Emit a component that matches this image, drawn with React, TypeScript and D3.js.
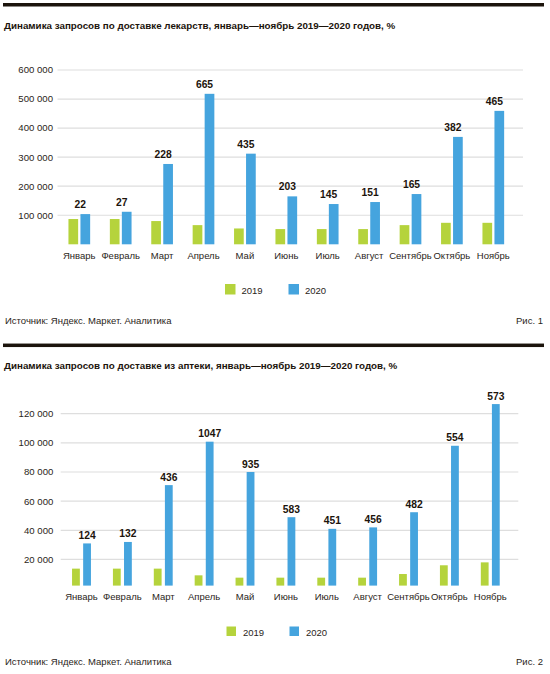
import React from 'react';
import * as d3 from 'd3';

// ---------- DATA ----------
const months = ['Январь', 'Февраль', 'Март', 'Апрель', 'Май', 'Июнь', 'Июль', 'Август', 'Сентябрь', 'Октябрь', 'Ноябрь'];

const medicines2019 = [87000, 87000, 80000, 66000, 54500, 52400, 52400, 52400, 66000, 74000, 74000];
const medicines2020 = [104000, 112000, 276500, 518000, 312000, 165000, 138600, 145500, 173000, 369700, 459300];
const medicinesGrowth = [22, 27, 228, 665, 435, 203, 145, 151, 165, 382, 465];
const medicinesTicks = [100000, 200000, 300000, 400000, 500000, 600000];

const pharmacy2019 = [13700, 13700, 13700, 9100, 7500, 7500, 7500, 7500, 10000, 16000, 18000];
const pharmacy2020 = [31000, 32000, 71000, 100800, 80000, 49000, 41000, 42000, 52400, 98000, 126600];
const pharmacyGrowth = [124, 132, 436, 1047, 935, 583, 451, 456, 482, 554, 573];
const pharmacyTicks = [20000, 40000, 60000, 80000, 100000, 120000];

const seriesNames = ['2019', '2020'];
const titles = [
  'Динамика запросов по доставке лекарств, январь—ноябрь 2019—2020 годов, %',
  'Динамика запросов по доставке из аптеки, январь—ноябрь 2019—2020 годов, %',
];
const sourceText = 'Источник: Яндекс. Маркет. Аналитика';
const figLabels = ['Рис. 1', 'Рис. 2'];

// ---------- STYLE ----------
const GREEN = '#b5d33c';
const BLUE = '#45a4de';
const INK = '#1c140c';
const TEXT = '#2a2520';
const GRID = '#dedede';
const FONT = '"Liberation Sans", Arial, Helvetica, sans-serif';

const fmt = d3.formatLocale({ decimal: ',', thousands: '\u00a0', grouping: [3], currency: ['', ''] }).format(',d');

type ChartProps = {
  title: string;
  fig: string;
  v2019: number[];
  v2020: number[];
  growth: number[];
  ticks: number[];
  yMax: number;
  lineY: number;
  titleY: number;
  yZero: number;
  yTopPx: number;
  gridX0: number;
  gridX1: number;
  tickX: number;
  bandX0: number;
  bandX1: number;
  barW: number;
  barGap: number;
  baseGap: number;
  labelOnBlue: boolean;
  labelDy: number;
  monthY: number;
  legendY: number;
  legendXs: number[];
  legendTextDx: number;
  legendSize: number;
  sourceY: number;
};

function BarChart(p: ChartProps) {
  const x = d3.scaleBand<string>().domain(months).range([p.bandX0, p.bandX1]).paddingInner(0).paddingOuter(0);
  const y = d3.scaleLinear().domain([0, p.yMax]).range([p.yZero, p.yTopPx]);
  const c = (m: string) => (x(m) as number) + x.bandwidth() / 2;
  const base = y(0) - p.baseGap;
  return (
    <g>
      <rect x={3} y={p.lineY - 1.75} width={541} height={3.5} fill={INK} />
      <text x={4} y={p.titleY} fontFamily={FONT} fontWeight="bold" fontSize={9.8} fill={INK}>{p.title}</text>
      {p.ticks.map((t) => (
        <g key={t}>
          <line x1={p.gridX0} x2={p.gridX1} y1={y(t)} y2={y(t)} stroke={GRID} strokeWidth={1.2} />
          <text x={p.tickX} y={y(t)} dy="0.35em" textAnchor="end" fontFamily={FONT} fontSize={9.6} fill={TEXT}>{fmt(t)}</text>
        </g>
      ))}
      {months.map((m, i) => {
        const cx = c(m);
        const gx = cx - p.barGap / 2 - p.barW;
        const bx = cx + p.barGap / 2;
        const lx = p.labelOnBlue ? bx + p.barW / 2 : cx + 1;
        return (
          <g key={m}>
            <rect x={gx} y={y(p.v2019[i])} width={p.barW} height={base - y(p.v2019[i])} fill={GREEN} />
            <rect x={bx} y={y(p.v2020[i])} width={p.barW} height={base - y(p.v2020[i])} fill={BLUE} />
            <text x={lx} y={y(p.v2020[i]) - p.labelDy} textAnchor="middle" fontFamily={FONT} fontWeight="bold" fontSize={10.3} fill={INK}>{p.growth[i]}</text>
            <text x={cx} y={p.monthY} textAnchor="middle" fontFamily={FONT} fontSize={9.5} fill={TEXT}>{m}</text>
          </g>
        );
      })}
      {seriesNames.map((s, i) => (
        <g key={s}>
          <rect x={p.legendXs[i]} y={p.legendY} width={p.legendSize} height={p.legendSize} fill={i === 0 ? GREEN : BLUE} />
          <text x={p.legendXs[i] + p.legendSize + p.legendTextDx} y={p.legendY + p.legendSize - 0.5} fontFamily={FONT} fontSize={9.5} fill={TEXT}>{s}</text>
        </g>
      ))}
      <text x={5} y={p.sourceY} fontFamily={FONT} fontSize={9.5} fill={TEXT}>{sourceText}</text>
      <text x={543} y={p.sourceY} textAnchor="end" fontFamily={FONT} fontSize={9.5} fill={TEXT}>{p.fig}</text>
    </g>
  );
}

export default function App() {
  return (
    <svg width={550} height={674} viewBox="0 0 550 674" style={{ position: 'absolute', left: 0, top: 0, background: '#fff' }}>
      <rect width={550} height={674} fill="#fff" />
      <BarChart
        title={titles[0]} fig={figLabels[0]}
        v2019={medicines2019} v2020={medicines2020} growth={medicinesGrowth}
        ticks={medicinesTicks} yMax={600000}
        lineY={4.75} titleY={28.5}
        yZero={244.3} yTopPx={70}
        gridX0={57.5} gridX1={523} tickX={53}
        bandX0={58.6} bandX1={514}
        barW={9.7} barGap={2.3} baseGap={0}
        labelOnBlue={false} labelDy={6}
        monthY={258.5}
        legendY={284} legendXs={[225, 288.5]} legendTextDx={6} legendSize={10.5}
        sourceY={324}
      />
      <BarChart
        title={titles[1]} fig={figLabels[1]}
        v2019={pharmacy2019} v2020={pharmacy2020} growth={pharmacyGrowth}
        ticks={pharmacyTicks} yMax={120000}
        lineY={345.3} titleY={369.3}
        yZero={588.6} yTopPx={413.7}
        gridX0={60.7} gridX1={518.3} tickX={53.3}
        bandX0={61.06} bandX1={510.7}
        barW={7.8} barGap={3.3} baseGap={3}
        labelOnBlue={true} labelDy={4.5}
        monthY={599.5}
        legendY={626.5} legendXs={[226.5, 289.5]} legendTextDx={7} legendSize={9.5}
        sourceY={665}
      />
    </svg>
  );
}
